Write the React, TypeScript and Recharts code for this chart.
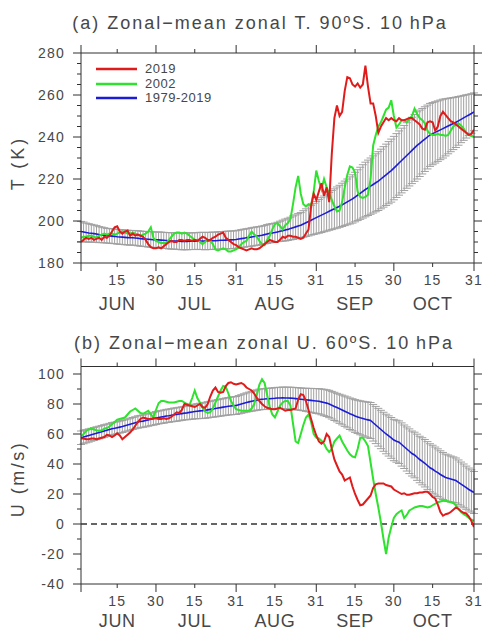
import React from "react";
import { LineChart, Line, XAxis, YAxis, ErrorBar, ReferenceLine, Legend } from "recharts";

/* ── data (index = day, 0 = 1 Jun, 152 = 31 Oct) ───────────────────────── */

// (a) zonal-mean T, 90S, 10 hPa
const t2019 = [
  190, 191, 192, 191.5, 192, 191, 191.5, 192, 191, 192.5,
  192, 193, 195, 197, 197.5, 195, 194, 195, 195.5, 193,
  194, 193, 193.5, 193, 192.5, 191, 189, 187.5, 187, 187,
  187.5, 187, 188, 189, 190, 190.5, 190, 190, 191, 191,
  190.5, 191, 191, 190.5, 191, 190.5, 191.5, 192.5, 192, 191,
  191, 192, 192.5, 193.5, 194, 194.5, 192, 191, 190, 189,
  188.5, 187.5, 187, 186.5, 186, 186.5, 187, 186.5, 186.5, 187,
  188, 189, 190, 191, 190.5, 190, 190, 191, 192.5, 192,
  193, 193, 192.5, 192.5, 192, 191.5, 192, 194, 196, 207,
  213, 210, 214, 218, 212, 216, 209, 232, 249, 255,
  250, 252, 262, 268.5, 268, 265, 264, 265.5, 263.5, 265,
  274, 264, 256, 256, 250, 242, 245, 247, 249, 248,
  249, 248, 247.5, 249, 248, 248, 248.5, 249, 249, 248,
  247, 246, 244, 243.5, 247, 247.5, 247, 243, 245, 250,
  252, 250.5, 249, 247.5, 247, 246, 245, 244, 243, 242,
  241, 241.5, 243.5,
];
const t2002 = [
  192, 192.5, 192.5, 193, 193, 192.5, 192, 193, 193.5, 194,
  193.5, 194, 194, 193.5, 194, 194.5, 195, 194.5, 194, 194,
  194.5, 194, 193.5, 193, 193.5, 194, 195, 197, 192, 190.5,
  190, 189.5, 189.5, 189.5, 191, 192.5, 194, 194.5, 194.5, 194,
  194.5, 194, 193, 192, 191, 191, 190, 189, 190, 191,
  190.5, 189, 186.5, 186, 186.5, 187, 186.5, 185.5, 185.5, 186,
  186.5, 187.5, 189, 190, 190.5, 193, 195, 193.5, 192.5, 190.5,
  189, 188.5, 191, 193, 196, 198.5, 199, 197.5, 196, 198,
  199, 201, 208, 216, 221.5, 213, 208, 207, 208, 207.5,
  214, 224, 219, 215, 220, 216, 213, 210, 207, 204.5,
  205, 209, 216, 222, 226, 225.5, 223, 214, 211.5, 211,
  211.5, 212.5, 220, 236, 241, 245, 247, 250, 253, 254,
  257.5, 250, 244.5, 246, 248, 248, 247, 248.5, 250, 253.5,
  251, 249, 248, 246.5, 243, 241.5, 241, 241, 241.5, 241,
  241, 240.5, 241, 243, 245, 246, 246.5, 245.5, 244, 242,
  241, 240.5, 240,
];
const tMean = [
  195, 194.8, 194.5, 194.3, 194.2, 194, 193.8, 193.5, 193.4, 193.2,
  193, 192.9, 192.8, 192.7, 192.5, 192.4, 192.3, 192.2, 192.1, 192,
  192, 191.9, 191.8, 191.6, 191.5, 191.4, 191.3, 191.2, 191.1, 191,
  191, 190.9, 190.8, 190.7, 190.6, 190.5, 190.5, 190.4, 190.4, 190.3,
  190.3, 190.3, 190.4, 190.4, 190.4, 190.5, 190.5, 190.5, 190.4, 190.5,
  190.5, 190.6, 190.6, 190.7, 190.8, 190.8, 190.9, 191, 191, 191.1,
  191.2, 191.4, 191.6, 191.8, 192, 192.2, 192.4, 192.6, 192.8, 193,
  193.2, 193.5, 193.8, 194.1, 194.3, 194.5, 194.8, 195.1, 195.4, 195.7,
  196, 196.4, 196.8, 197.2, 197.6, 198, 198.6, 199.2, 199.8, 200.4,
  201, 201.6, 202.2, 202.8, 203.4, 204, 204.6, 205.2, 205.8, 206.4,
  207, 207.7, 208.4, 209.1, 209.8, 210.5, 211.4, 212.3, 213.2, 214.1,
  215, 215.8, 216.6, 217.4, 218.2, 219, 220, 221, 222, 223,
  224, 225.2, 226.4, 227.6, 228.8, 230, 231.2, 232.4, 233.6, 234.8,
  236, 237, 238, 239, 240, 241, 241.6, 242.2, 242.8, 243.4,
  244, 244.6, 245.2, 245.8, 246.4, 247, 247.7, 248.4, 249.1, 249.8,
  250.5, 251.2, 252,
];
const tStd = [
  4.8, 4.7, 4.5, 4.4, 4.2, 4.1, 4, 3.8, 3.7, 3.6,
  3.5, 3.5, 3.5, 3.5, 3.5, 3.5, 3.5, 3.5, 3.5, 3.5,
  3.5, 3.5, 3.6, 3.6, 3.6, 3.6, 3.7, 3.7, 3.7, 3.7,
  3.8, 3.8, 3.8, 3.8, 3.9, 3.9, 3.9, 3.9, 4, 4,
  4, 4, 4, 4, 4, 4, 4.1, 4.1, 4.1, 4.1,
  4.1, 4.1, 4.1, 4.1, 4.2, 4.2, 4.2, 4.2, 4.2, 4.2,
  4.2, 4.2, 4.3, 4.3, 4.3, 4.3, 4.4, 4.4, 4.4, 4.4,
  4.4, 4.4, 4.5, 4.5, 4.5, 4.5, 4.6, 4.8, 5, 5.2,
  5.3, 5.4, 5.6, 5.7, 5.9, 6, 6.3, 6.6, 6.9, 7.1,
  7.4, 7.7, 8, 8.3, 8.5, 8.8, 9, 9.3, 9.5, 9.8,
  10, 10.3, 10.6, 10.9, 11.2, 11.5, 11.8, 12.1, 12.4, 12.7,
  13, 13.2, 13.4, 13.6, 13.8, 14, 14.2, 14.4, 14.6, 14.8,
  15, 15.1, 15.2, 15.3, 15.4, 15.5, 15.6, 15.7, 15.8, 15.9,
  16, 15.8, 15.6, 15.4, 15.2, 15, 14.8, 14.6, 14.4, 14.2,
  14, 13.6, 13.2, 12.8, 12.4, 12, 11.6, 11.1, 10.7, 10.3,
  9.8, 9.4, 9,
];

// (b) zonal-mean U, 60S, 10 hPa
const u2019 = [
  57, 57, 56.5, 56.5, 57, 57, 56.5, 57, 57.5, 58,
  59.5, 59, 58, 59, 60.5, 59, 56.5, 58, 59.5, 61,
  63, 65.5, 68, 70, 71, 70.5, 70, 70, 70.5, 70.5,
  70, 70, 70.5, 70, 70.5, 71.5, 73, 74.5, 74, 76,
  80, 79.5, 79, 78.5, 78, 79, 80, 78, 77.5, 80,
  85, 89, 91, 88, 87.5, 88, 92, 94, 94.5, 93.5,
  93, 93.5, 94, 93, 91, 90, 89, 87, 84, 82,
  80, 78.5, 77.5, 77, 76.5, 76.5, 77, 77.5, 76.5, 75.5,
  76, 76, 76.5, 77, 83, 86.5, 86, 82, 76, 70,
  64, 59, 55, 53.5, 55, 60, 58, 50, 43, 39,
  35, 33, 29, 30, 31, 25, 20, 16, 12.5, 13,
  15, 17, 19, 24, 26.5, 27, 27, 27, 26, 25.5,
  25, 23, 22, 21, 20, 20.5, 19.5, 19.5, 20, 20.5,
  20.5, 21, 21, 21.5, 21.5, 20, 18, 17, 13, 8,
  5.5, 6.5, 7, 8, 9.5, 11, 10, 8.5, 7.5, 7,
  5, 2, -2,
];
const u2002 = [
  58.5, 60, 62, 63, 63.5, 63, 62.5, 62, 62.5, 63.5,
  64, 65, 66.5, 68, 69.5, 70, 70.5, 71, 73, 75,
  76, 77, 75.5, 74, 73.5, 74.5, 75.5, 73, 71, 76,
  80.5, 82, 82, 81.5, 81, 81, 81, 81.5, 82, 82,
  81, 80, 79.5, 84, 89, 84, 81, 77.5, 75, 74,
  74.5, 77, 81, 85, 89, 92, 91.5, 87, 82, 79,
  76.5, 76, 75.5, 75.5, 75.5, 75.5, 77, 80, 86, 93,
  96.5, 94, 86, 78, 73, 71, 75, 79, 81, 82,
  82, 79, 67, 55, 54, 60, 66, 71, 73, 68,
  60, 57.5, 57, 55.5, 53.5, 50, 48, 50, 55, 57,
  59, 55, 52, 49, 46.5, 45, 44.5, 50, 57.5, 57.5,
  55, 52, 41, 30, 20, 11, 1, -10, -20, -9,
  -2, 4, 6.5, 8, 9, 4, 6, 9, 10, 11,
  11.5, 12, 12, 11.5, 11, 11.5, 12.5, 13.5, 14.5, 15,
  15.5, 15.5, 15, 14.5, 14, 12.5, 10, 8, 6.5, 5.5,
  4, 3, 2,
];
const uMean = [
  57.5, 58, 58.5, 59, 59.5, 60, 60.5, 61, 61.5, 62,
  62.5, 63, 63.5, 63.8, 64.2, 64.6, 65, 65.5, 66, 66.5,
  67, 67.5, 68, 68.3, 68.6, 69, 69.4, 69.8, 70.2, 70.6,
  71, 71.3, 71.6, 72, 72.2, 72.5, 72.8, 73, 73.3, 73.6,
  73.9, 74.1, 74.4, 74.7, 75, 75.2, 75.4, 75.5, 75.8, 76.1,
  76.4, 76.7, 77, 77.3, 77.6, 77.9, 78.2, 78.5, 78.7, 78.9,
  79, 79.5, 80, 80.5, 81, 81.4, 81.8, 82.2, 82.6, 83,
  83.2, 83.3, 83.5, 83.5, 83.7, 83.8, 84, 84, 84.1, 84,
  84, 83.9, 83.8, 83.6, 83.4, 83.2, 83, 82.8, 82.6, 82.4,
  82.2, 82, 81.8, 81.4, 81, 80.6, 80, 79.2, 78.4, 77.6,
  76.8, 76, 75.2, 74.4, 73.5, 72.8, 72, 71.4, 70.8, 70.3,
  69.8, 69.4, 69, 67.5, 66, 64.5, 63, 61.5, 60, 58.7,
  57.4, 56, 55.2, 54.5, 53, 51.5, 50, 48.5, 47, 46,
  44.5, 43, 41.8, 40.5, 39, 37.5, 36.5, 35.3, 34.2, 33,
  32, 31, 30.5, 30, 29.5, 29, 27.8, 26.6, 25.4, 24.2,
  23, 22, 21,
];
const uStd = [
  4.5, 4.5, 4.4, 4.4, 4.3, 4.3, 4.3, 4.2, 4.2, 4.2,
  4.1, 4.1, 4.1, 4.1, 4, 4, 4, 4, 4, 4,
  4, 4, 4.1, 4.1, 4.1, 4.2, 4.2, 4.2, 4.3, 4.3,
  4.3, 4.3, 4.4, 4.4, 4.4, 4.4, 4.5, 4.5, 4.5, 4.5,
  4.5, 4.6, 4.7, 4.8, 4.9, 5, 5.1, 5.2, 5.3, 5.4,
  5.4, 5.5, 5.6, 5.6, 5.7, 5.7, 5.8, 5.8, 5.9, 5.9,
  6, 6.1, 6.2, 6.3, 6.4, 6.5, 6.6, 6.7, 6.8, 6.9,
  6.9, 7, 7, 7, 7, 7.1, 7.1, 7.1, 7.2, 7.2,
  7.2, 7.3, 7.3, 7.4, 7.4, 7.5, 7.5, 7.7, 7.8, 8,
  8.1, 8.3, 8.4, 8.6, 8.8, 8.9, 9.1, 9.2, 9.4, 9.5,
  9.7, 9.9, 10.1, 10.3, 10.5, 10.7, 10.9, 11.1, 11.3, 11.5,
  11.7, 11.9, 12, 12.2, 12.4, 12.6, 12.8, 13, 13.2, 13.4,
  13.6, 13.8, 14, 14.2, 14.4, 14.5, 14.7, 14.9, 15, 15.2,
  15.4, 15.5, 15.7, 15.8, 15.9, 16, 16, 16, 15.9, 15.8,
  15.7, 15.6, 15.5, 15.3, 15.2, 15, 14.9, 14.7, 14.6, 14.4,
  14.3, 14.1, 14,
];

// axes
const dayTicks = [0, 14, 29, 44, 60, 75, 91, 106, 121, 136, 152];
const dayLabels = ["", "15", "30", "15", "31", "15", "31", "15", "30", "15", "31"];
const monthLabels = ["", "JUN", "", "JUL", "", "AUG", "", "SEP", "", "OCT", ""];
const dayMinor = [14, 44, 75, 106, 136];

const tTicks = [180, 185, 190, 195, 200, 205, 210, 215, 220, 225, 230, 235, 240, 245, 250, 255, 260, 265, 270, 275, 280];
const tMajor = [180, 200, 220, 240, 260, 280];
const uTicks = [-40, -30, -20, -10, 0, 10, 20, 30, 40, 50, 60, 70, 80, 90, 100];
const uMajor = [-40, -20, 0, 20, 40, 60, 80, 100];

const legendOrder = ["2019", "2002", "1979-2019"];

/* ── style ─────────────────────────────────────────────────────────────── */

const RED = "#e01b1b";
const GREEN = "#2ee22e";
const BLUE = "#1c1cd8";
const BAR = "#a0a0a0";
const AXIS = "#303030";
const TEXT = "#474747";
const FONT = "'Liberation Sans', Arial, Helvetica, sans-serif";

const tRows = tMean.map((_, i) => ({ day: i, t2019: t2019[i], t2002: t2002[i], tMean: tMean[i], tStd: tStd[i] }));
const uRows = uMean.map((_, i) => ({ day: i, u2019: u2019[i], u2002: u2002[i], uMean: uMean[i], uStd: uStd[i] }));

/* ── ticks ─────────────────────────────────────────────────────────────── */

function BottomTick(props: any) {
  const { x, y, payload, monthDy } = props;
  const i = dayTicks.indexOf(payload.value);
  const len = dayMinor.includes(payload.value) ? 4 : 8;
  return (
    <g>
      <line x1={x} x2={x} y1={y} y2={y + len} stroke={AXIS} />
      <text x={x} y={y + 22} textAnchor="middle" fontSize={14} letterSpacing={1.2} fill={TEXT} fontFamily={FONT}>
        {dayLabels[i]}
      </text>
      {monthLabels[i] ? (
        <text x={x} y={y + monthDy} textAnchor="middle" fontSize={18} letterSpacing={0.6} fill={TEXT} fontFamily={FONT}>
          {monthLabels[i]}
        </text>
      ) : null}
    </g>
  );
}

function TopTick(props: any) {
  const { x, y, payload } = props;
  const len = dayMinor.includes(payload.value) ? 4 : 8;
  return <line x1={x} x2={x} y1={y} y2={y - len} stroke={AXIS} />;
}

function LeftTick(props: any) {
  const { x, y, payload, majors } = props;
  const major = majors.includes(payload.value);
  return (
    <g>
      <line x1={x - (major ? 8 : 4)} x2={x} y1={y} y2={y} stroke={AXIS} />
      {major ? (
        <text x={x - 16} y={y} dy="0.36em" textAnchor="end" fontSize={14} letterSpacing={1.2} fill={TEXT} fontFamily={FONT}>
          {payload.value}
        </text>
      ) : null}
    </g>
  );
}

function RightTick(props: any) {
  const { x, y, payload, majors } = props;
  const len = majors.includes(payload.value) ? 8 : 4;
  return <line x1={x} x2={x + len} y1={y} y2={y} stroke={AXIS} />;
}

function SeriesLegend(props: any) {
  const items = (props.payload || [])
    .filter((e: any) => legendOrder.includes(e.value))
    .sort((a: any, b: any) => legendOrder.indexOf(a.value) - legendOrder.indexOf(b.value));
  return (
    <div style={{ fontFamily: FONT, fontSize: 13, color: TEXT }}>
      {items.map((e: any) => (
        <div key={e.value} style={{ display: "flex", alignItems: "center", height: 14.5 }}>
          <svg width={41} height={4} style={{ display: "block" }}>
            <line x1={0} x2={41} y1={2} y2={2} stroke={e.color} strokeWidth={2.5} />
          </svg>
          <span style={{ marginLeft: 8, lineHeight: "14px", letterSpacing: 0.5 }}>{e.value}</span>
        </div>
      ))}
    </div>
  );
}

/* ── panels ────────────────────────────────────────────────────────────── */

function TempPanel() {
  return (
    <LineChart width={483} height={320} data={tRows} margin={{ top: 43, right: 0, bottom: 7, left: 0 }}>
      <XAxis dataKey="day" type="number" domain={[0, 152]} ticks={dayTicks} interval={0} allowDataOverflow
        height={50} tickSize={0} tickMargin={0} tickLine={false} axisLine={{ stroke: AXIS }} tick={(p: any) => <BottomTick {...p} monthDy={46.5} />} />
      <XAxis xAxisId="top" orientation="top" dataKey="day" type="number" domain={[0, 152]} ticks={dayTicks} interval={0} allowDataOverflow
        height={10} tickSize={0} tickMargin={0} tickLine={false} axisLine={{ stroke: AXIS }} tick={(p: any) => <TopTick {...p} />} />
      <YAxis type="number" domain={[180, 280]} ticks={tTicks} interval={0} allowDataOverflow width={81}
        tickSize={0} tickMargin={0} tickLine={false} axisLine={{ stroke: AXIS }} tick={(p: any) => <LeftTick {...p} majors={tMajor} />} />
      <YAxis yAxisId="right" orientation="right" type="number" domain={[180, 280]} ticks={tTicks} interval={0} allowDataOverflow width={9}
        tickSize={0} tickMargin={0} tickLine={false} axisLine={{ stroke: AXIS }} tick={(p: any) => <RightTick {...p} majors={tMajor} />} />
      <Legend layout="vertical" align="center" verticalAlign="middle" content={<SeriesLegend />}
        wrapperStyle={{ left: 96, top: 62, width: 130 }} />
      <Line dataKey="tMean" stroke="none" dot={false} activeDot={false} legendType="none" isAnimationActive={false}>
        <ErrorBar dataKey="tStd" width={4} stroke={BAR} strokeWidth={1} direction="y" />
      </Line>
      <Line dataKey="tMean" name="1979-2019" stroke={BLUE} strokeWidth={1.6} dot={false} isAnimationActive={false} />
      <Line dataKey="t2002" name="2002" stroke={GREEN} strokeWidth={2} dot={false} isAnimationActive={false} />
      <Line dataKey="t2019" name="2019" stroke={RED} strokeWidth={2} dot={false} isAnimationActive={false} />
    </LineChart>
  );
}

function WindPanel() {
  return (
    <LineChart width={483} height={311} data={uRows} margin={{ top: 36.5, right: 0, bottom: 7, left: 0 }}>
      <XAxis dataKey="day" type="number" domain={[0, 152]} ticks={dayTicks} interval={0} allowDataOverflow
        height={40} tickSize={0} tickMargin={0} tickLine={false} axisLine={{ stroke: AXIS }} tick={(p: any) => <BottomTick {...p} monthDy={43} />} />
      <XAxis xAxisId="top" orientation="top" dataKey="day" type="number" domain={[0, 152]} ticks={dayTicks} interval={0} allowDataOverflow
        height={10} tickSize={0} tickMargin={0} tickLine={false} axisLine={{ stroke: AXIS }} tick={(p: any) => <TopTick {...p} />} />
      <YAxis type="number" domain={[-40, 105]} ticks={uTicks} interval={0} allowDataOverflow width={81}
        tickSize={0} tickMargin={0} tickLine={false} axisLine={{ stroke: AXIS }} tick={(p: any) => <LeftTick {...p} majors={uMajor} />} />
      <YAxis yAxisId="right" orientation="right" type="number" domain={[-40, 105]} ticks={uTicks} interval={0} allowDataOverflow width={9}
        tickSize={0} tickMargin={0} tickLine={false} axisLine={{ stroke: AXIS }} tick={(p: any) => <RightTick {...p} majors={uMajor} />} />
      <ReferenceLine y={0} stroke="#333" strokeWidth={1.4} strokeDasharray="6 4" />
      <Line dataKey="uMean" stroke="none" dot={false} activeDot={false} legendType="none" isAnimationActive={false}>
        <ErrorBar dataKey="uStd" width={4} stroke={BAR} strokeWidth={1} direction="y" />
      </Line>
      <Line dataKey="uMean" name="1979-2019" stroke={BLUE} strokeWidth={1.6} dot={false} isAnimationActive={false} />
      <Line dataKey="u2002" name="2002" stroke={GREEN} strokeWidth={2} dot={false} isAnimationActive={false} />
      <Line dataKey="u2019" name="2019" stroke={RED} strokeWidth={2} dot={false} isAnimationActive={false} />
    </LineChart>
  );
}

export default function App() {
  const textStyle = { fontFamily: FONT, fill: TEXT };
  return (
    <div style={{ position: "absolute", left: 0, top: 0, width: 483, height: 631, background: "#fff" }}>
      <div style={{ position: "absolute", left: 0, top: 0 }}>
        <TempPanel />
      </div>
      <div style={{ position: "absolute", left: 0, top: 320 }}>
        <WindPanel />
      </div>
      <svg width={483} height={631} style={{ position: "absolute", left: 0, top: 0, pointerEvents: "none" }}>
        <text x={260} y={29} textAnchor="middle" fontSize={18} letterSpacing={2} style={textStyle}>
          (a) Zonal−mean zonal T. 90ºS. 10{"\u2009"}hPa
        </text>
        <text x={264} y={349} textAnchor="middle" fontSize={18} letterSpacing={2} style={textStyle}>
          (b) Zonal−mean zonal U. 60ºS. 10{"\u2009"}hPa
        </text>
        <text transform="translate(18,163) rotate(-90)" textAnchor="middle" dominantBaseline="central" fontSize={18} letterSpacing={3} style={textStyle}>
          T (K)
        </text>
        <text transform="translate(18,479) rotate(-90)" textAnchor="middle" dominantBaseline="central" fontSize={18} letterSpacing={2.5} style={textStyle}>
          U (m/s)
        </text>
      </svg>
    </div>
  );
}
